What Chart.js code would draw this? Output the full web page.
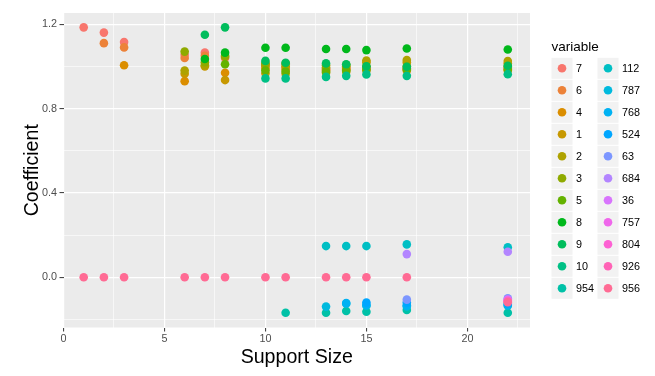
<!DOCTYPE html>
<html>
<head>
<meta charset="utf-8">
<script src="https://cdn.jsdelivr.net/npm/chart.js@4.4.0/dist/chart.umd.min.js"></script>
<style>
  html, body { margin: 0; padding: 0; background: #ffffff; }
  canvas { display: block; }
</style>
</head>
<body>
<canvas id="c" width="655" height="376"></canvas>
<script>
// ---------------- data ----------------
// null = variable not visible at that support size (hidden under the 0.0 row)
const supportSizes = [1, 2, 3, 6, 7, 8, 10, 11, 13, 14, 15, 17, 22];
const variables = ['7','6','4','1','2','3','5','8','9','10','954','112','787','768','524','63','684','36','757','804','926','956'];

const v7   = [1.185, 1.16, 1.115, 1.055, 1.065, 1.04, 1.01, 1.01, 0.99, 0.995, 0.995, 0.99, 0.995];
const v6   = [null, 1.11, 1.09, 1.04, 1.05, null, 1.0, 0.995, 0.985, 0.99, 0.99, 0.99, 0.99];
const v4   = [null, null, 1.005, 0.93, null, 0.97, 0.99, 0.985, 0.98, 0.985, 0.98, 0.98, 0.98];
const v1   = [null, null, null, 0.965, 1.0, 0.935, 0.967, 0.965, 0.97, 0.975, 1.02, 1.02, 1.015];
const v2   = [null, null, null, 0.98, 1.005, 1.045, 1.006, 1.0, 1.005, 1.008, 1.028, 1.03, 1.025];
const v3   = [null, null, null, 1.07, 1.02, 1.05, 1.015, 1.015, 0.995, 1.0, 1.0, 1.0, 1.0];
const v5   = [null, null, null, null, null, 1.01, 0.98, 0.975, 0.975, 0.98, 0.985, 0.985, 0.985];
const v8   = [null, null, null, null, 1.035, 1.065, 1.088, 1.088, 1.082, 1.082, 1.077, 1.085, 1.08];
const v9   = [null, null, null, null, 1.15, 1.185, 1.026, 1.017, 1.014, 1.01, 1.0, 0.998, 1.003];
const v10  = [null, null, null, null, null, null, 0.943, 0.943, 0.95, 0.955, 0.962, 0.955, 0.963];
const v954 = [null, null, null, null, null, null, null, -0.168, -0.168, -0.16, -0.163, -0.155, -0.168];
const v112 = [null, null, null, null, null, null, null, null, 0.148, 0.148, 0.148, 0.156, 0.142];
const v787 = [null, null, null, null, null, null, null, null, -0.139, -0.125, -0.135, -0.138, -0.135];
const v768 = [null, null, null, null, null, null, null, null, null, -0.122, -0.131, -0.133, -0.13];
const v524 = [null, null, null, null, null, null, null, null, null, null, -0.12, -0.12, -0.125];
const v63  = [null, null, null, null, null, null, null, null, null, null, null, -0.106, -0.10];
const v684 = [null, null, null, null, null, null, null, null, null, null, null, 0.11, 0.121];
const v36  = [null, null, null, null, null, null, null, null, null, null, null, null, -0.105];
const v757 = [null, null, null, null, null, null, null, null, null, null, null, null, -0.11];
const v804 = [null, null, null, null, null, null, null, null, null, null, null, null, -0.112];
const v926 = [null, null, null, null, null, null, null, null, null, null, null, null, -0.115];
const v956 = [0, 0, 0, 0, 0, 0, 0, 0, 0, 0, 0, 0, -0.118];

const series = [v7, v6, v4, v1, v2, v3, v5, v8, v9, v10, v954, v112, v787, v768, v524, v63, v684, v36, v757, v804, v926, v956];

const xTickValues = [0, 2.5, 5, 7.5, 10, 12.5, 15, 17.5, 20, 22.5];
const xTickLabels = ['0', '', '5', '', '10', '', '15', '', '20', ''];
const yTickValues = [-0.2, 0, 0.2, 0.4, 0.6, 0.8, 1.0, 1.2];
const yTickLabels = ['', '0.0', '', '0.4', '', '0.8', '', '1.2'];

// ---------------- colours (ggplot hue palette, l=65 c=100) ----------------
function hcl(h, c, l) {
  const hr = h * Math.PI / 180;
  const U = c * Math.cos(hr), V = c * Math.sin(hr);
  const Xn = 95.047, Yn = 100.0, Zn = 108.883;
  const Y = l > 8 ? Yn * Math.pow((l + 16) / 116, 3) : Yn * l / 903.3;
  const den = Xn + 15 * Yn + 3 * Zn;
  const un = 4 * Xn / den, vn = 9 * Yn / den;
  const u = U / (13 * l) + un, v = V / (13 * l) + vn;
  const X = 9 * Y * u / (4 * v);
  const Z = -X / 3 - 5 * Y + 3 * Y / v;
  const x = X / 100, y = Y / 100, z = Z / 100;
  const lin = [
     3.240479 * x - 1.537150 * y - 0.498535 * z,
    -0.969256 * x + 1.875992 * y + 0.041556 * z,
     0.055648 * x - 0.204043 * y + 1.057311 * z
  ];
  const g = lin.map(t => {
    t = t <= 0.0031308 ? 12.92 * t : 1.055 * Math.pow(t, 1 / 2.4) - 0.055;
    t = Math.min(1, Math.max(0, t));
    return Math.round(t * 255);
  });
  return 'rgb(' + g.join(',') + ')';
}
const colors = variables.map((_, i) => hcl(15 + 360 * i / variables.length, 100, 65));

// ---------------- chart ----------------
const FONT = '"Liberation Sans", Arial, Helvetica, sans-serif';
const PT_R = 4.3;

const datasets = series.map((vals, i) => ({
  label: variables[i],
  data: supportSizes.map((s, j) => ({ x: s, y: vals[j] })).filter(p => p.y !== null),
  backgroundColor: colors[i],
  borderColor: colors[i],
  borderWidth: 0,
  pointRadius: PT_R,
  pointHoverRadius: PT_R,
  order: -i
}));

function isMajorX(v) { const k = xTickValues.indexOf(v); return k >= 0 && xTickLabels[k] !== ''; }
function isMajorY(v) { const k = yTickValues.findIndex(t => Math.abs(t - v) < 1e-9); return k >= 0 && yTickLabels[k] !== ''; }

const bgPlugin = {
  id: 'ggbg',
  beforeDraw(chart) {
    const { ctx, chartArea: a } = chart;
    ctx.save();
    ctx.fillStyle = '#FFFFFF';
    ctx.fillRect(0, 0, chart.width, chart.height);
    ctx.fillStyle = '#EBEBEB';
    ctx.fillRect(a.left, a.top, a.right - a.left, a.bottom - a.top);
    ctx.restore();
  }
};

const decorPlugin = {
  id: 'ggdecor',
  afterDraw(chart) {
    const { ctx, chartArea: a } = chart;
    ctx.save();
    // axis titles
    ctx.fillStyle = '#000000';
    ctx.font = '19.6px ' + FONT;
    ctx.textAlign = 'center';
    ctx.textBaseline = 'alphabetic';
    ctx.fillText('Support Size', (a.left + a.right) / 2, 362.5);
    ctx.save();
    ctx.translate(38, (a.top + a.bottom) / 2);
    ctx.rotate(-Math.PI / 2);
    ctx.fillText('Coefficient', 0, 0);
    ctx.restore();

    // legend
    ctx.textAlign = 'left';
    ctx.textBaseline = 'middle';
    ctx.font = '13.5px ' + FONT;
    ctx.fillText('variable', 551.5, 47.5);
    const rows = 11, pitch = 22, key = 21;
    const colX = [551.5, 597.5];
    const firstCenter = 68.3;
    ctx.font = '10.8px ' + FONT;
    variables.forEach((name, i) => {
      const col = Math.floor(i / rows), row = i % rows;
      const cy = firstCenter + row * pitch;
      const kx = colX[col];
      ctx.fillStyle = '#F2F2F2';
      ctx.fillRect(kx, cy - key / 2, key, key);
      ctx.fillStyle = colors[i];
      ctx.beginPath();
      ctx.arc(kx + key / 2, cy, PT_R, 0, Math.PI * 2);
      ctx.fill();
      ctx.fillStyle = '#000000';
      ctx.fillText(name, kx + key + 3.5, cy + 0.5);
    });
    ctx.restore();
  }
};

new Chart(document.getElementById('c'), {
  type: 'scatter',
  data: { datasets },
  options: {
    responsive: false,
    animation: false,
    devicePixelRatio: 1,
    events: [],
    layout: { padding: { left: 0, right: 125, top: 13, bottom: 0 } },
    plugins: { legend: { display: false }, tooltip: { enabled: false } },
    scales: {
      x: {
        type: 'linear',
        min: 0,
        max: 23.1,
        afterBuildTicks: s => { s.ticks = xTickValues.map(v => ({ value: v })); },
        afterFit: s => { s.height = 48.5; },
        border: { display: false },
        grid: {
          color: '#FFFFFF',
          lineWidth: c => (c.tick && isMajorX(c.tick.value)) ? 1.2 : 0.6,
          tickColor: c => (c.tick && isMajorX(c.tick.value)) ? '#333333' : 'rgba(0,0,0,0)',
          tickWidth: 1,
          tickLength: 4,
          drawTicks: true
        },
        ticks: {
          autoSkip: false,
          maxRotation: 0,
          padding: 1.5,
          color: '#4D4D4D',
          font: { family: FONT, size: 10.8 },
          callback: (v, i) => xTickLabels[i]
        }
      },
      y: {
        type: 'linear',
        min: -0.238,
        max: 1.253,
        afterBuildTicks: s => { s.ticks = yTickValues.map(v => ({ value: v })); },
        afterFit: s => { s.width = 63.5; },
        border: { display: false },
        grid: {
          color: '#FFFFFF',
          lineWidth: c => (c.tick && isMajorY(c.tick.value)) ? 1.2 : 0.6,
          tickColor: c => (c.tick && isMajorY(c.tick.value)) ? '#333333' : 'rgba(0,0,0,0)',
          tickWidth: 1,
          tickLength: 4,
          drawTicks: true
        },
        ticks: {
          autoSkip: false,
          padding: 2.5,
          color: '#4D4D4D',
          font: { family: FONT, size: 10.8 },
          callback: (v, i) => yTickLabels[i]
        }
      }
    }
  },
  plugins: [bgPlugin, decorPlugin]
});
</script>
</body>
</html>
